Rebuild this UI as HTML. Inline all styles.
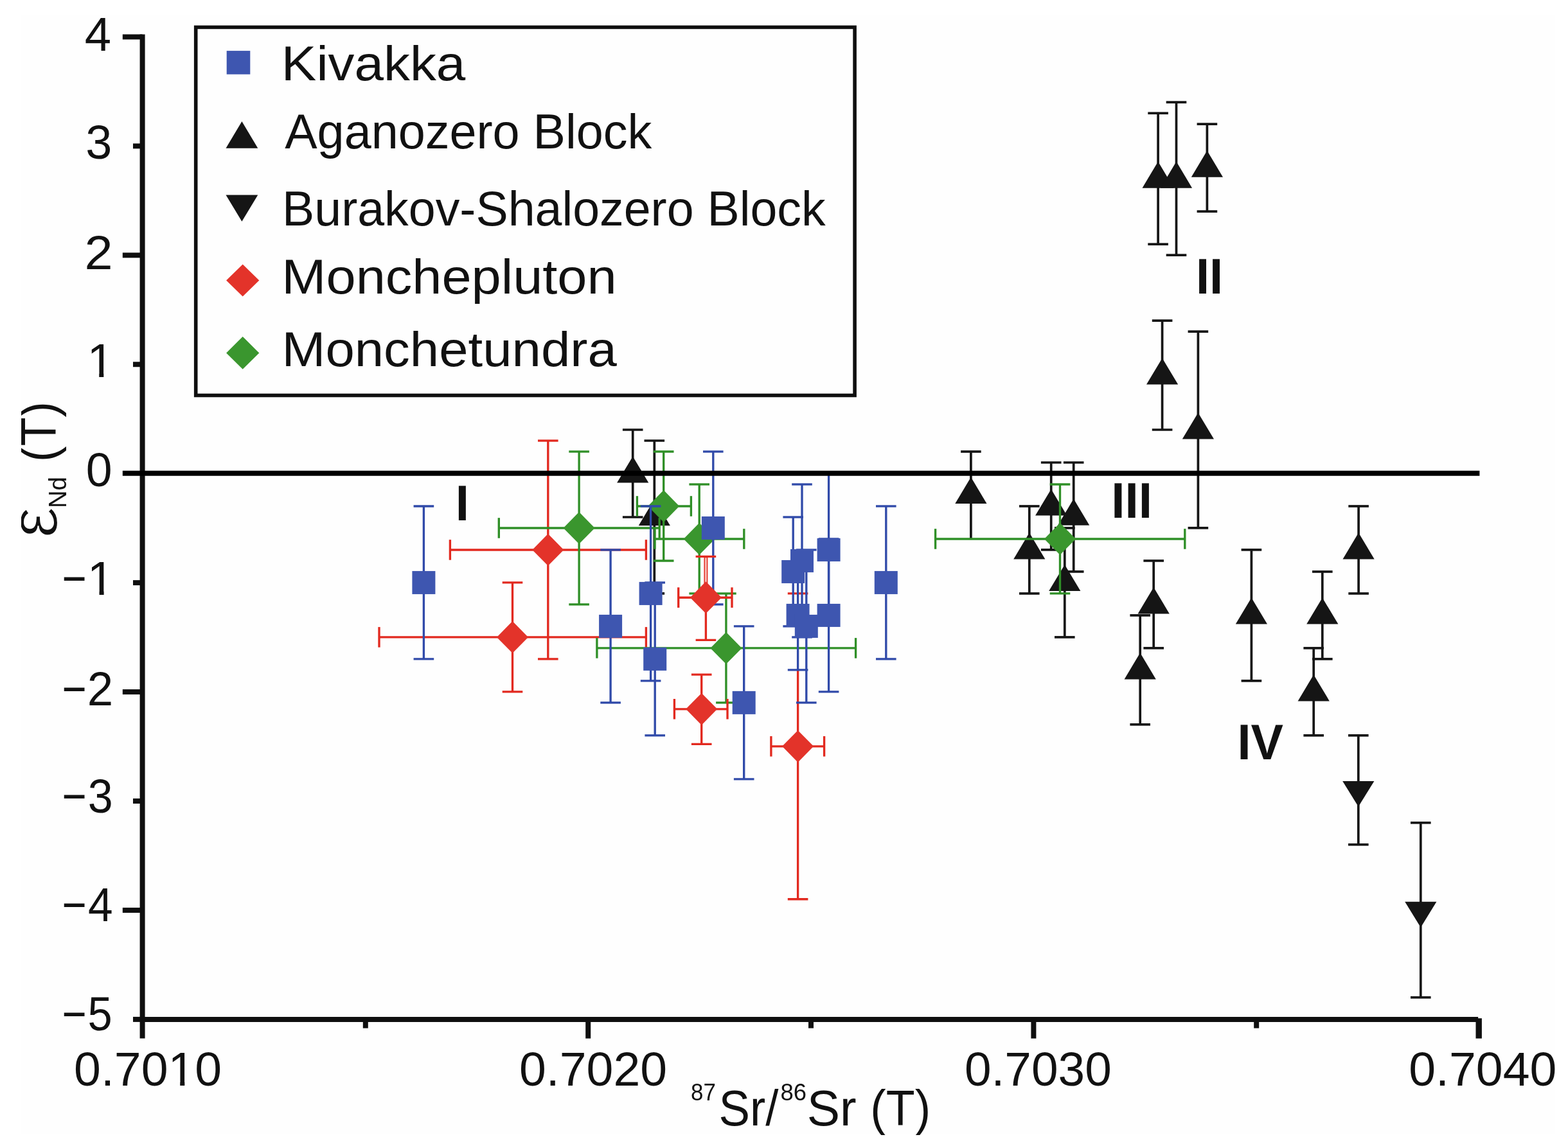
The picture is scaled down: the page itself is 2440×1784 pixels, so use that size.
<!DOCTYPE html>
<html lang="en">
<head>
<meta charset="utf-8">
<title>eNd(T) vs 87Sr/86Sr(T)</title>
<style>
html,body{margin:0;padding:0;background:#ffffff;}
body{width:2440px;height:1784px;overflow:hidden;}
svg{display:block;}
</style>
</head>
<body>
<svg width="2440" height="1784" viewBox="0 0 2440 1784" role="img" aria-label="Scatter plot of epsilon Nd (T) versus 87Sr/86Sr (T) for layered intrusions">
<defs><clipPath id="clip"><rect x="33.2" y="23.2" width="2386.4" height="1743.2"/></clipPath><filter id="soft" x="0" y="0" width="2440" height="1784" filterUnits="userSpaceOnUse" color-interpolation-filters="sRGB"><feGaussianBlur stdDeviation="0.75"/></filter></defs>
<rect x="0" y="0" width="2440" height="1784" fill="#ffffff"/>
<g clip-path="url(#clip)" filter="url(#soft)">
<rect x="33.2" y="23.2" width="2386.4" height="1743.2" fill="#fefefe"/>
<g id="aganozero">
<line x1="984.7" y1="669.02" x2="984.7" y2="804.98" stroke="#151515" stroke-width="3.7" stroke-linecap="butt"/>
<line x1="968.9" y1="669.02" x2="1000.5" y2="669.02" stroke="#151515" stroke-width="3.7" stroke-linecap="butt"/>
<line x1="968.9" y1="804.98" x2="1000.5" y2="804.98" stroke="#151515" stroke-width="3.7" stroke-linecap="butt"/>
<polygon points="984.7,710.4 1009.3,751.5 960.1,751.5" fill="#151515"/>
<line x1="1018.3" y1="686.02" x2="1018.3" y2="923.93" stroke="#151515" stroke-width="3.7" stroke-linecap="butt"/>
<line x1="1002.5" y1="686.02" x2="1034.1" y2="686.02" stroke="#151515" stroke-width="3.7" stroke-linecap="butt"/>
<line x1="1002.5" y1="923.93" x2="1034.1" y2="923.93" stroke="#151515" stroke-width="3.7" stroke-linecap="butt"/>
<polygon points="1018.3,777.18 1042.9,818.28 993.7,818.28" fill="#151515"/>
<line x1="1510.9" y1="703.01" x2="1510.9" y2="838.96" stroke="#151515" stroke-width="3.7" stroke-linecap="butt"/>
<line x1="1495.1" y1="703.01" x2="1526.7" y2="703.01" stroke="#151515" stroke-width="3.7" stroke-linecap="butt"/>
<polygon points="1510.9,742.79 1535.5,783.89 1486.3,783.89" fill="#151515"/>
<line x1="1601.8" y1="787.98" x2="1601.8" y2="923.93" stroke="#151515" stroke-width="3.7" stroke-linecap="butt"/>
<line x1="1586" y1="787.98" x2="1617.6" y2="787.98" stroke="#151515" stroke-width="3.7" stroke-linecap="butt"/>
<line x1="1586" y1="923.93" x2="1617.6" y2="923.93" stroke="#151515" stroke-width="3.7" stroke-linecap="butt"/>
<polygon points="1601.8,829.36 1626.4,870.46 1577.2,870.46" fill="#151515"/>
<line x1="1656.8" y1="821.97" x2="1656.8" y2="991.91" stroke="#151515" stroke-width="3.7" stroke-linecap="butt"/>
<line x1="1641" y1="821.97" x2="1672.6" y2="821.97" stroke="#151515" stroke-width="3.7" stroke-linecap="butt"/>
<line x1="1641" y1="991.91" x2="1672.6" y2="991.91" stroke="#151515" stroke-width="3.7" stroke-linecap="butt"/>
<polygon points="1656.8,878.94 1681.4,920.04 1632.2,920.04" fill="#151515"/>
<line x1="1635.7" y1="720.01" x2="1635.7" y2="855.96" stroke="#151515" stroke-width="3.7" stroke-linecap="butt"/>
<line x1="1619.9" y1="720.01" x2="1651.5" y2="720.01" stroke="#151515" stroke-width="3.7" stroke-linecap="butt"/>
<line x1="1619.9" y1="855.96" x2="1651.5" y2="855.96" stroke="#151515" stroke-width="3.7" stroke-linecap="butt"/>
<polygon points="1635.7,761.38 1660.3,802.48 1611.1,802.48" fill="#151515"/>
<line x1="1670.7" y1="720.01" x2="1670.7" y2="889.95" stroke="#151515" stroke-width="3.7" stroke-linecap="butt"/>
<line x1="1654.9" y1="720.01" x2="1686.5" y2="720.01" stroke="#151515" stroke-width="3.7" stroke-linecap="butt"/>
<line x1="1654.9" y1="889.95" x2="1686.5" y2="889.95" stroke="#151515" stroke-width="3.7" stroke-linecap="butt"/>
<polygon points="1670.7,776.58 1695.3,817.68 1646.1,817.68" fill="#151515"/>
<line x1="1774.2" y1="957.92" x2="1774.2" y2="1127.86" stroke="#151515" stroke-width="3.7" stroke-linecap="butt"/>
<line x1="1758.4" y1="957.92" x2="1790" y2="957.92" stroke="#151515" stroke-width="3.7" stroke-linecap="butt"/>
<line x1="1758.4" y1="1127.86" x2="1790" y2="1127.86" stroke="#151515" stroke-width="3.7" stroke-linecap="butt"/>
<polygon points="1774.2,1016.29 1798.8,1057.39 1749.6,1057.39" fill="#151515"/>
<line x1="1795.2" y1="872.95" x2="1795.2" y2="1008.9" stroke="#151515" stroke-width="3.7" stroke-linecap="butt"/>
<line x1="1779.4" y1="872.95" x2="1811" y2="872.95" stroke="#151515" stroke-width="3.7" stroke-linecap="butt"/>
<line x1="1779.4" y1="1008.9" x2="1811" y2="1008.9" stroke="#151515" stroke-width="3.7" stroke-linecap="butt"/>
<polygon points="1795.2,914.33 1819.8,955.43 1770.6,955.43" fill="#151515"/>
<line x1="1802.1" y1="176.2" x2="1802.1" y2="380.13" stroke="#151515" stroke-width="3.7" stroke-linecap="butt"/>
<line x1="1786.3" y1="176.2" x2="1817.9" y2="176.2" stroke="#151515" stroke-width="3.7" stroke-linecap="butt"/>
<line x1="1786.3" y1="380.13" x2="1817.9" y2="380.13" stroke="#151515" stroke-width="3.7" stroke-linecap="butt"/>
<polygon points="1802.1,251.56 1826.7,292.66 1777.5,292.66" fill="#151515"/>
<line x1="1830.5" y1="159.2" x2="1830.5" y2="397.12" stroke="#151515" stroke-width="3.7" stroke-linecap="butt"/>
<line x1="1814.7" y1="159.2" x2="1846.3" y2="159.2" stroke="#151515" stroke-width="3.7" stroke-linecap="butt"/>
<line x1="1814.7" y1="397.12" x2="1846.3" y2="397.12" stroke="#151515" stroke-width="3.7" stroke-linecap="butt"/>
<polygon points="1830.5,251.56 1855.1,292.66 1805.9,292.66" fill="#151515"/>
<line x1="1878.4" y1="193.19" x2="1878.4" y2="329.14" stroke="#151515" stroke-width="3.7" stroke-linecap="butt"/>
<line x1="1862.6" y1="193.19" x2="1894.2" y2="193.19" stroke="#151515" stroke-width="3.7" stroke-linecap="butt"/>
<line x1="1862.6" y1="329.14" x2="1894.2" y2="329.14" stroke="#151515" stroke-width="3.7" stroke-linecap="butt"/>
<polygon points="1878.4,234.57 1903,275.67 1853.8,275.67" fill="#151515"/>
<line x1="1808.6" y1="499.08" x2="1808.6" y2="669.02" stroke="#151515" stroke-width="3.7" stroke-linecap="butt"/>
<line x1="1792.8" y1="499.08" x2="1824.4" y2="499.08" stroke="#151515" stroke-width="3.7" stroke-linecap="butt"/>
<line x1="1792.8" y1="669.02" x2="1824.4" y2="669.02" stroke="#151515" stroke-width="3.7" stroke-linecap="butt"/>
<polygon points="1808.6,557.45 1833.2,598.55 1784,598.55" fill="#151515"/>
<line x1="1864.4" y1="516.08" x2="1864.4" y2="821.97" stroke="#151515" stroke-width="3.7" stroke-linecap="butt"/>
<line x1="1848.6" y1="516.08" x2="1880.2" y2="516.08" stroke="#151515" stroke-width="3.7" stroke-linecap="butt"/>
<line x1="1848.6" y1="821.97" x2="1880.2" y2="821.97" stroke="#151515" stroke-width="3.7" stroke-linecap="butt"/>
<polygon points="1864.4,642.42 1889,683.52 1839.8,683.52" fill="#151515"/>
<line x1="1947.4" y1="855.96" x2="1947.4" y2="1059.89" stroke="#151515" stroke-width="3.7" stroke-linecap="butt"/>
<line x1="1931.6" y1="855.96" x2="1963.2" y2="855.96" stroke="#151515" stroke-width="3.7" stroke-linecap="butt"/>
<line x1="1931.6" y1="1059.89" x2="1963.2" y2="1059.89" stroke="#151515" stroke-width="3.7" stroke-linecap="butt"/>
<polygon points="1947.4,930.52 1972,971.62 1922.8,971.62" fill="#151515"/>
<line x1="2044.2" y1="1008.9" x2="2044.2" y2="1144.86" stroke="#151515" stroke-width="3.7" stroke-linecap="butt"/>
<line x1="2028.4" y1="1008.9" x2="2060" y2="1008.9" stroke="#151515" stroke-width="3.7" stroke-linecap="butt"/>
<line x1="2028.4" y1="1144.86" x2="2060" y2="1144.86" stroke="#151515" stroke-width="3.7" stroke-linecap="butt"/>
<polygon points="2044.2,1050.28 2068.8,1091.38 2019.6,1091.38" fill="#151515"/>
<line x1="2057.8" y1="889.95" x2="2057.8" y2="1025.9" stroke="#151515" stroke-width="3.7" stroke-linecap="butt"/>
<line x1="2042" y1="889.95" x2="2073.6" y2="889.95" stroke="#151515" stroke-width="3.7" stroke-linecap="butt"/>
<line x1="2042" y1="1025.9" x2="2073.6" y2="1025.9" stroke="#151515" stroke-width="3.7" stroke-linecap="butt"/>
<polygon points="2057.8,930.52 2082.4,971.62 2033.2,971.62" fill="#151515"/>
<line x1="2114.1" y1="787.98" x2="2114.1" y2="923.93" stroke="#151515" stroke-width="3.7" stroke-linecap="butt"/>
<line x1="2098.3" y1="787.98" x2="2129.9" y2="787.98" stroke="#151515" stroke-width="3.7" stroke-linecap="butt"/>
<line x1="2098.3" y1="923.93" x2="2129.9" y2="923.93" stroke="#151515" stroke-width="3.7" stroke-linecap="butt"/>
<polygon points="2114.1,829.36 2138.7,870.46 2089.5,870.46" fill="#151515"/>
</g><g id="burakov">
<line x1="2113.8" y1="1144.86" x2="2113.8" y2="1314.8" stroke="#151515" stroke-width="3.7" stroke-linecap="butt"/>
<line x1="2098" y1="1144.86" x2="2129.6" y2="1144.86" stroke="#151515" stroke-width="3.7" stroke-linecap="butt"/>
<line x1="2098" y1="1314.8" x2="2129.6" y2="1314.8" stroke="#151515" stroke-width="3.7" stroke-linecap="butt"/>
<polygon points="2089.2,1215.93 2138.4,1215.93 2113.8,1255.83" fill="#151515"/>
<line x1="2210.8" y1="1280.81" x2="2210.8" y2="1552.71" stroke="#151515" stroke-width="3.7" stroke-linecap="butt"/>
<line x1="2195" y1="1280.81" x2="2226.6" y2="1280.81" stroke="#151515" stroke-width="3.7" stroke-linecap="butt"/>
<line x1="2195" y1="1552.71" x2="2226.6" y2="1552.71" stroke="#151515" stroke-width="3.7" stroke-linecap="butt"/>
<polygon points="2186.2,1403.76 2235.4,1403.76 2210.8,1443.66" fill="#151515"/>
</g><g id="monchepluton-a">
<line x1="700.4" y1="855.96" x2="1005.4" y2="855.96" stroke="#e2291f" stroke-width="3.35" stroke-linecap="butt"/>
<line x1="700.4" y1="840.16" x2="700.4" y2="871.76" stroke="#e2291f" stroke-width="3.35" stroke-linecap="butt"/>
<line x1="1005.4" y1="840.16" x2="1005.4" y2="871.76" stroke="#e2291f" stroke-width="3.35" stroke-linecap="butt"/>
<line x1="852.8" y1="686.02" x2="852.8" y2="1025.9" stroke="#e2291f" stroke-width="3.35" stroke-linecap="butt"/>
<line x1="837" y1="686.02" x2="868.6" y2="686.02" stroke="#e2291f" stroke-width="3.35" stroke-linecap="butt"/>
<line x1="837" y1="1025.9" x2="868.6" y2="1025.9" stroke="#e2291f" stroke-width="3.35" stroke-linecap="butt"/>
<polygon points="852.8,831.06 877.3,855.96 852.8,880.86 828.3,855.96" fill="#e3332a"/>
<line x1="590" y1="991.91" x2="1005.4" y2="991.91" stroke="#e2291f" stroke-width="3.35" stroke-linecap="butt"/>
<line x1="590" y1="976.11" x2="590" y2="1007.71" stroke="#e2291f" stroke-width="3.35" stroke-linecap="butt"/>
<line x1="1005.4" y1="976.11" x2="1005.4" y2="1007.71" stroke="#e2291f" stroke-width="3.35" stroke-linecap="butt"/>
<line x1="797.5" y1="906.94" x2="797.5" y2="1076.88" stroke="#e2291f" stroke-width="3.35" stroke-linecap="butt"/>
<line x1="781.7" y1="906.94" x2="813.3" y2="906.94" stroke="#e2291f" stroke-width="3.35" stroke-linecap="butt"/>
<line x1="781.7" y1="1076.88" x2="813.3" y2="1076.88" stroke="#e2291f" stroke-width="3.35" stroke-linecap="butt"/>
<polygon points="797.5,967.01 822,991.91 797.5,1016.81 773,991.91" fill="#e3332a"/>
<line x1="1199.9" y1="1161.85" x2="1282.6" y2="1161.85" stroke="#e2291f" stroke-width="3.35" stroke-linecap="butt"/>
<line x1="1199.9" y1="1146.05" x2="1199.9" y2="1177.65" stroke="#e2291f" stroke-width="3.35" stroke-linecap="butt"/>
<line x1="1282.6" y1="1146.05" x2="1282.6" y2="1177.65" stroke="#e2291f" stroke-width="3.35" stroke-linecap="butt"/>
<line x1="1225.8" y1="923.93" x2="1257.4" y2="923.93" stroke="#e2291f" stroke-width="3.35" stroke-linecap="butt"/>
<line x1="1241.6" y1="1043" x2="1241.6" y2="1399.77" stroke="#e2291f" stroke-width="3.35" stroke-linecap="butt"/>
<line x1="1225.8" y1="1399.77" x2="1257.4" y2="1399.77" stroke="#e2291f" stroke-width="3.35" stroke-linecap="butt"/>
<polygon points="1241.6,1136.95 1266.1,1161.85 1241.6,1186.75 1217.1,1161.85" fill="#e3332a"/>
</g><g id="monchetundra">
<line x1="776.3" y1="821.97" x2="1026.2" y2="821.97" stroke="#2f8f27" stroke-width="3.35" stroke-linecap="butt"/>
<line x1="776.3" y1="806.17" x2="776.3" y2="837.77" stroke="#2f8f27" stroke-width="3.35" stroke-linecap="butt"/>
<line x1="1026.2" y1="806.17" x2="1026.2" y2="837.77" stroke="#2f8f27" stroke-width="3.35" stroke-linecap="butt"/>
<line x1="901.1" y1="703.01" x2="901.1" y2="940.93" stroke="#2f8f27" stroke-width="3.35" stroke-linecap="butt"/>
<line x1="885.3" y1="703.01" x2="916.9" y2="703.01" stroke="#2f8f27" stroke-width="3.35" stroke-linecap="butt"/>
<line x1="885.3" y1="940.93" x2="916.9" y2="940.93" stroke="#2f8f27" stroke-width="3.35" stroke-linecap="butt"/>
<line x1="991.4" y1="787.98" x2="1075.4" y2="787.98" stroke="#2f8f27" stroke-width="3.35" stroke-linecap="butt"/>
<line x1="991.4" y1="772.18" x2="991.4" y2="803.78" stroke="#2f8f27" stroke-width="3.35" stroke-linecap="butt"/>
<line x1="1075.4" y1="772.18" x2="1075.4" y2="803.78" stroke="#2f8f27" stroke-width="3.35" stroke-linecap="butt"/>
<line x1="1032.7" y1="703.01" x2="1032.7" y2="872.95" stroke="#2f8f27" stroke-width="3.35" stroke-linecap="butt"/>
<line x1="1016.9" y1="703.01" x2="1048.5" y2="703.01" stroke="#2f8f27" stroke-width="3.35" stroke-linecap="butt"/>
<line x1="1016.9" y1="872.95" x2="1048.5" y2="872.95" stroke="#2f8f27" stroke-width="3.35" stroke-linecap="butt"/>
<line x1="1019" y1="838.96" x2="1157.8" y2="838.96" stroke="#2f8f27" stroke-width="3.35" stroke-linecap="butt"/>
<line x1="1019" y1="823.16" x2="1019" y2="854.76" stroke="#2f8f27" stroke-width="3.35" stroke-linecap="butt"/>
<line x1="1157.8" y1="823.16" x2="1157.8" y2="854.76" stroke="#2f8f27" stroke-width="3.35" stroke-linecap="butt"/>
<line x1="1088.2" y1="753.99" x2="1088.2" y2="923.93" stroke="#2f8f27" stroke-width="3.35" stroke-linecap="butt"/>
<line x1="1072.4" y1="753.99" x2="1104" y2="753.99" stroke="#2f8f27" stroke-width="3.35" stroke-linecap="butt"/>
<line x1="1072.4" y1="923.93" x2="1104" y2="923.93" stroke="#2f8f27" stroke-width="3.35" stroke-linecap="butt"/>
<line x1="928.9" y1="1008.9" x2="1331.6" y2="1008.9" stroke="#2f8f27" stroke-width="3.35" stroke-linecap="butt"/>
<line x1="928.9" y1="993.1" x2="928.9" y2="1024.7" stroke="#2f8f27" stroke-width="3.35" stroke-linecap="butt"/>
<line x1="1331.6" y1="993.1" x2="1331.6" y2="1024.7" stroke="#2f8f27" stroke-width="3.35" stroke-linecap="butt"/>
<line x1="1129.9" y1="923.93" x2="1129.9" y2="1093.87" stroke="#2f8f27" stroke-width="3.35" stroke-linecap="butt"/>
<line x1="1114.1" y1="923.93" x2="1145.7" y2="923.93" stroke="#2f8f27" stroke-width="3.35" stroke-linecap="butt"/>
<line x1="1114.1" y1="1093.87" x2="1145.7" y2="1093.87" stroke="#2f8f27" stroke-width="3.35" stroke-linecap="butt"/>
<line x1="1455.6" y1="838.96" x2="1843.8" y2="838.96" stroke="#2f8f27" stroke-width="3.35" stroke-linecap="butt"/>
<line x1="1455.6" y1="823.16" x2="1455.6" y2="854.76" stroke="#2f8f27" stroke-width="3.35" stroke-linecap="butt"/>
<line x1="1843.8" y1="823.16" x2="1843.8" y2="854.76" stroke="#2f8f27" stroke-width="3.35" stroke-linecap="butt"/>
<line x1="1649.5" y1="753.99" x2="1649.5" y2="923.93" stroke="#2f8f27" stroke-width="3.35" stroke-linecap="butt"/>
<line x1="1633.7" y1="753.99" x2="1665.3" y2="753.99" stroke="#2f8f27" stroke-width="3.35" stroke-linecap="butt"/>
<line x1="1633.7" y1="923.93" x2="1665.3" y2="923.93" stroke="#2f8f27" stroke-width="3.35" stroke-linecap="butt"/>
<polygon points="901.1,797.07 925.6,821.97 901.1,846.87 876.6,821.97" fill="#3a962e"/>
<polygon points="1032.7,763.08 1057.2,787.98 1032.7,812.88 1008.2,787.98" fill="#3a962e"/>
<polygon points="1088.2,814.06 1112.7,838.96 1088.2,863.86 1063.7,838.96" fill="#3a962e"/>
<polygon points="1129.9,984 1154.4,1008.9 1129.9,1033.8 1105.4,1008.9" fill="#3a962e"/>
<polygon points="1649.5,814.06 1674,838.96 1649.5,863.86 1625,838.96" fill="#3a962e"/>
</g><g id="kivakka">
<line x1="659.4" y1="787.98" x2="659.4" y2="1025.9" stroke="#304aa9" stroke-width="3.35" stroke-linecap="butt"/>
<line x1="643.6" y1="787.98" x2="675.2" y2="787.98" stroke="#304aa9" stroke-width="3.35" stroke-linecap="butt"/>
<line x1="643.6" y1="1025.9" x2="675.2" y2="1025.9" stroke="#304aa9" stroke-width="3.35" stroke-linecap="butt"/>
<line x1="950.1" y1="855.96" x2="950.1" y2="1093.87" stroke="#304aa9" stroke-width="3.35" stroke-linecap="butt"/>
<line x1="934.3" y1="855.96" x2="965.9" y2="855.96" stroke="#304aa9" stroke-width="3.35" stroke-linecap="butt"/>
<line x1="934.3" y1="1093.87" x2="965.9" y2="1093.87" stroke="#304aa9" stroke-width="3.35" stroke-linecap="butt"/>
<line x1="1012.6" y1="787.98" x2="1012.6" y2="1059.89" stroke="#304aa9" stroke-width="3.35" stroke-linecap="butt"/>
<line x1="996.8" y1="787.98" x2="1028.4" y2="787.98" stroke="#304aa9" stroke-width="3.35" stroke-linecap="butt"/>
<line x1="996.8" y1="1059.89" x2="1028.4" y2="1059.89" stroke="#304aa9" stroke-width="3.35" stroke-linecap="butt"/>
<line x1="1019.2" y1="906.94" x2="1019.2" y2="1144.86" stroke="#304aa9" stroke-width="3.35" stroke-linecap="butt"/>
<line x1="1003.4" y1="906.94" x2="1035" y2="906.94" stroke="#304aa9" stroke-width="3.35" stroke-linecap="butt"/>
<line x1="1003.4" y1="1144.86" x2="1035" y2="1144.86" stroke="#304aa9" stroke-width="3.35" stroke-linecap="butt"/>
<line x1="1109.8" y1="703.01" x2="1109.8" y2="940.93" stroke="#304aa9" stroke-width="3.35" stroke-linecap="butt"/>
<line x1="1094" y1="703.01" x2="1125.6" y2="703.01" stroke="#304aa9" stroke-width="3.35" stroke-linecap="butt"/>
<line x1="1094" y1="940.93" x2="1125.6" y2="940.93" stroke="#304aa9" stroke-width="3.35" stroke-linecap="butt"/>
<line x1="1157.7" y1="974.92" x2="1157.7" y2="1212.83" stroke="#304aa9" stroke-width="3.35" stroke-linecap="butt"/>
<line x1="1141.9" y1="974.92" x2="1173.5" y2="974.92" stroke="#304aa9" stroke-width="3.35" stroke-linecap="butt"/>
<line x1="1141.9" y1="1212.83" x2="1173.5" y2="1212.83" stroke="#304aa9" stroke-width="3.35" stroke-linecap="butt"/>
<line x1="1234.2" y1="804.98" x2="1234.2" y2="974.92" stroke="#304aa9" stroke-width="3.35" stroke-linecap="butt"/>
<line x1="1218.4" y1="804.98" x2="1250" y2="804.98" stroke="#304aa9" stroke-width="3.35" stroke-linecap="butt"/>
<line x1="1218.4" y1="974.92" x2="1250" y2="974.92" stroke="#304aa9" stroke-width="3.35" stroke-linecap="butt"/>
<line x1="1248" y1="753.99" x2="1248" y2="991.91" stroke="#304aa9" stroke-width="3.35" stroke-linecap="butt"/>
<line x1="1232.2" y1="753.99" x2="1263.8" y2="753.99" stroke="#304aa9" stroke-width="3.35" stroke-linecap="butt"/>
<line x1="1232.2" y1="991.91" x2="1263.8" y2="991.91" stroke="#304aa9" stroke-width="3.35" stroke-linecap="butt"/>
<line x1="1241.6" y1="872.95" x2="1241.6" y2="1042.89" stroke="#304aa9" stroke-width="3.35" stroke-linecap="butt"/>
<line x1="1225.8" y1="1042.89" x2="1257.4" y2="1042.89" stroke="#304aa9" stroke-width="3.35" stroke-linecap="butt"/>
<line x1="1254.8" y1="855.96" x2="1254.8" y2="1093.87" stroke="#304aa9" stroke-width="3.35" stroke-linecap="butt"/>
<line x1="1239" y1="855.96" x2="1270.6" y2="855.96" stroke="#304aa9" stroke-width="3.35" stroke-linecap="butt"/>
<line x1="1239" y1="1093.87" x2="1270.6" y2="1093.87" stroke="#304aa9" stroke-width="3.35" stroke-linecap="butt"/>
<line x1="1289.6" y1="737" x2="1289.6" y2="974.92" stroke="#304aa9" stroke-width="3.35" stroke-linecap="butt"/>
<line x1="1289.6" y1="838.96" x2="1289.6" y2="1076.88" stroke="#304aa9" stroke-width="3.35" stroke-linecap="butt"/>
<line x1="1273.8" y1="838.96" x2="1305.4" y2="838.96" stroke="#304aa9" stroke-width="3.35" stroke-linecap="butt"/>
<line x1="1273.8" y1="1076.88" x2="1305.4" y2="1076.88" stroke="#304aa9" stroke-width="3.35" stroke-linecap="butt"/>
<line x1="1378.8" y1="787.98" x2="1378.8" y2="1025.9" stroke="#304aa9" stroke-width="3.35" stroke-linecap="butt"/>
<line x1="1363" y1="787.98" x2="1394.6" y2="787.98" stroke="#304aa9" stroke-width="3.35" stroke-linecap="butt"/>
<line x1="1363" y1="1025.9" x2="1394.6" y2="1025.9" stroke="#304aa9" stroke-width="3.35" stroke-linecap="butt"/>
<rect x="641.4" y="888.94" width="36" height="36" fill="#3e56b0"/>
<rect x="932.1" y="956.92" width="36" height="36" fill="#3e56b0"/>
<rect x="994.6" y="905.93" width="36" height="36" fill="#3e56b0"/>
<rect x="1001.2" y="1007.9" width="36" height="36" fill="#3e56b0"/>
<rect x="1091.8" y="803.97" width="36" height="36" fill="#3e56b0"/>
<rect x="1139.7" y="1075.87" width="36" height="36" fill="#3e56b0"/>
<rect x="1216.2" y="871.95" width="36" height="36" fill="#3e56b0"/>
<rect x="1230" y="854.95" width="36" height="36" fill="#3e56b0"/>
<rect x="1223.6" y="939.92" width="36" height="36" fill="#3e56b0"/>
<rect x="1236.8" y="956.92" width="36" height="36" fill="#3e56b0"/>
<rect x="1271.6" y="837.96" width="36" height="36" fill="#3e56b0"/>
<rect x="1271.6" y="939.92" width="36" height="36" fill="#3e56b0"/>
<rect x="1360.8" y="888.94" width="36" height="36" fill="#3e56b0"/>
</g><g id="monchepluton-b">
<line x1="1055.7" y1="930.2" x2="1139" y2="930.2" stroke="#e2291f" stroke-width="3.35" stroke-linecap="butt"/>
<line x1="1055.7" y1="914.4" x2="1055.7" y2="946" stroke="#e2291f" stroke-width="3.35" stroke-linecap="butt"/>
<line x1="1139" y1="914.4" x2="1139" y2="946" stroke="#e2291f" stroke-width="3.35" stroke-linecap="butt"/>
<line x1="1098.4" y1="866.3" x2="1098.4" y2="996.3" stroke="#e2291f" stroke-width="3.35" stroke-linecap="butt"/>
<line x1="1082.6" y1="866.3" x2="1114.2" y2="866.3" stroke="#e2291f" stroke-width="3.35" stroke-linecap="butt"/>
<line x1="1082.6" y1="996.3" x2="1114.2" y2="996.3" stroke="#e2291f" stroke-width="3.35" stroke-linecap="butt"/>
<line x1="1098.4" y1="868.3" x2="1098.4" y2="910.2" stroke="#f7bcb6" stroke-width="3.2" stroke-linecap="butt"/>
<line x1="1096.2" y1="866.3" x2="1096.2" y2="910.2" stroke="#e2291f" stroke-width="1.5" stroke-linecap="butt"/>
<line x1="1100.6" y1="866.3" x2="1100.6" y2="910.2" stroke="#e2291f" stroke-width="1.5" stroke-linecap="butt"/>
<polygon points="1098.4,905.3 1122.9,930.2 1098.4,955.1 1073.9,930.2" fill="#e3332a"/>
<line x1="1049.4" y1="1103.8" x2="1132" y2="1103.8" stroke="#e2291f" stroke-width="3.35" stroke-linecap="butt"/>
<line x1="1049.4" y1="1088" x2="1049.4" y2="1119.6" stroke="#e2291f" stroke-width="3.35" stroke-linecap="butt"/>
<line x1="1132" y1="1088" x2="1132" y2="1119.6" stroke="#e2291f" stroke-width="3.35" stroke-linecap="butt"/>
<line x1="1091.7" y1="1050.1" x2="1091.7" y2="1158.4" stroke="#e2291f" stroke-width="3.35" stroke-linecap="butt"/>
<line x1="1075.9" y1="1050.1" x2="1107.5" y2="1050.1" stroke="#e2291f" stroke-width="3.35" stroke-linecap="butt"/>
<line x1="1075.9" y1="1158.4" x2="1107.5" y2="1158.4" stroke="#e2291f" stroke-width="3.35" stroke-linecap="butt"/>
<polygon points="1091.7,1078.9 1116.2,1103.8 1091.7,1128.7 1067.2,1103.8" fill="#e3332a"/>
</g>
<g id="axes">
<line x1="221.6" y1="53.4" x2="221.6" y2="1616.6" stroke="#0f0f0f" stroke-width="8" stroke-linecap="butt"/>
<line x1="217.6" y1="1586.9" x2="2300.2" y2="1586.9" stroke="#0f0f0f" stroke-width="8" stroke-linecap="butt"/>
<line x1="190.8" y1="736.8" x2="2302.4" y2="736.8" stroke="#000" stroke-width="8" stroke-linecap="butt"/>
<line x1="190.8" y1="57.44" x2="221.6" y2="57.44" stroke="#0f0f0f" stroke-width="8" stroke-linecap="butt"/>
<line x1="190.8" y1="397.32" x2="221.6" y2="397.32" stroke="#0f0f0f" stroke-width="8" stroke-linecap="butt"/>
<line x1="190.8" y1="1077.08" x2="221.6" y2="1077.08" stroke="#0f0f0f" stroke-width="8" stroke-linecap="butt"/>
<line x1="190.8" y1="1416.96" x2="221.6" y2="1416.96" stroke="#0f0f0f" stroke-width="8" stroke-linecap="butt"/>
<line x1="207" y1="227.38" x2="221.6" y2="227.38" stroke="#0f0f0f" stroke-width="8" stroke-linecap="butt"/>
<line x1="207" y1="567.26" x2="221.6" y2="567.26" stroke="#0f0f0f" stroke-width="8" stroke-linecap="butt"/>
<line x1="207" y1="907.14" x2="221.6" y2="907.14" stroke="#0f0f0f" stroke-width="8" stroke-linecap="butt"/>
<line x1="207" y1="1247.02" x2="221.6" y2="1247.02" stroke="#0f0f0f" stroke-width="8" stroke-linecap="butt"/>
<line x1="207" y1="1586.9" x2="221.6" y2="1586.9" stroke="#0f0f0f" stroke-width="8" stroke-linecap="butt"/>
<line x1="915.2" y1="1586.9" x2="915.2" y2="1616.6" stroke="#0f0f0f" stroke-width="8" stroke-linecap="butt"/>
<line x1="1608.4" y1="1586.9" x2="1608.4" y2="1616.6" stroke="#0f0f0f" stroke-width="8" stroke-linecap="butt"/>
<line x1="2301.2" y1="1585.2" x2="2301.2" y2="1616.6" stroke="#0f0f0f" stroke-width="9.4" stroke-linecap="butt"/>
<line x1="568.8" y1="1586.9" x2="568.8" y2="1600.6" stroke="#0f0f0f" stroke-width="8" stroke-linecap="butt"/>
<line x1="1262" y1="1586.9" x2="1262" y2="1600.6" stroke="#0f0f0f" stroke-width="8" stroke-linecap="butt"/>
<line x1="1955.2" y1="1586.9" x2="1955.2" y2="1600.6" stroke="#0f0f0f" stroke-width="8" stroke-linecap="butt"/>
</g>
<g id="legend">
<rect x="304.7" y="42.4" width="1025.4" height="573.1" fill="none" stroke="#0f0f0f" stroke-width="5.6"/>
<rect x="352.7" y="79.1" width="36.6" height="36.6" fill="#3e56b0"/>
<polygon points="376.4,189 401.3,230.8 351.5,230.8" fill="#151515"/>
<polygon points="351.5,303.4 401.3,303.4 376.4,344.8" fill="#151515"/>
<polygon points="377.7,411.4 403.3,436.5 377.7,461.6 352.1,436.5" fill="#e3332a"/>
<polygon points="377.7,524 403.3,549.4 377.7,574.8 352.1,549.4" fill="#3a962e"/>
</g>
<g id="labels" font-family='"Liberation Sans", Arial, Helvetica, sans-serif' fill="#111111">
<text transform="translate(437.87,125) scale(1.0693,1)" font-size="76.5" font-weight="normal">Kivakka</text>
<text transform="translate(443.23,230.6) scale(0.9877,1)" font-size="76.5" font-weight="normal">Aganozero Block</text>
<text transform="translate(439,351.3) scale(0.9848,1)" font-size="76.5" font-weight="normal">Burakov-Shalozero Block</text>
<text transform="translate(438.37,457.2) scale(1.0849,1)" font-size="76.5" font-weight="normal">Monchepluton</text>
<text transform="translate(438.49,570.3) scale(1.0660,1)" font-size="76.5" font-weight="normal">Monchetundra</text>
<text transform="translate(131.8,79) scale(0.9898,1)" font-size="75" font-weight="normal">4</text>
<text transform="translate(133.22,247.2) scale(0.9846,1)" font-size="75" font-weight="normal">3</text>
<text transform="translate(131.52,418.9) scale(1.0569,1)" font-size="75" font-weight="normal">2</text>
<text transform="translate(135.48,586.9) scale(1.0035,1)" font-size="75" font-weight="normal">1</text>
<text transform="translate(133.71,757.2) scale(0.9783,1)" font-size="75" font-weight="normal">0</text>
<text transform="translate(135.78,926.3) scale(1.0035,1)" font-size="75" font-weight="normal">1</text>
<text transform="translate(96.57,926.3) scale(0.8728,1)" font-size="75" font-weight="normal">−</text>
<text transform="translate(135.75,1097.7) scale(0.9691,1)" font-size="75" font-weight="normal">2</text>
<text transform="translate(96.57,1097.7) scale(0.8728,1)" font-size="75" font-weight="normal">−</text>
<text transform="translate(136.77,1264.7) scale(0.9337,1)" font-size="75" font-weight="normal">3</text>
<text transform="translate(96.57,1264.7) scale(0.8728,1)" font-size="75" font-weight="normal">−</text>
<text transform="translate(137.01,1434.2) scale(0.9263,1)" font-size="75" font-weight="normal">4</text>
<text transform="translate(96.57,1434.2) scale(0.8728,1)" font-size="75" font-weight="normal">−</text>
<text transform="translate(136.58,1604) scale(0.9147,1)" font-size="75" font-weight="normal">5</text>
<text transform="translate(96.57,1604) scale(0.8728,1)" font-size="75" font-weight="normal">−</text>
<text transform="translate(115.03,1690) scale(1.0034,1)" font-size="75" font-weight="normal">0.7010</text>
<text transform="translate(808.03,1690) scale(1.0030,1)" font-size="75" font-weight="normal">0.7020</text>
<text transform="translate(1500.95,1690) scale(0.9976,1)" font-size="75" font-weight="normal">0.7030</text>
<text transform="translate(2192.23,1690) scale(1.0034,1)" font-size="75" font-weight="normal">0.7040</text>
<text transform="translate(708.65,810) scale(0.9940,1)" font-size="77" font-weight="bold">I</text>
<text transform="translate(1860.99,456.6) scale(0.9862,1)" font-size="77" font-weight="bold">II</text>
<text transform="translate(1729.25,805.8) scale(0.9941,1)" font-size="77" font-weight="bold">III</text>
<text transform="translate(1925.41,1182) scale(0.9830,1)" font-size="77" font-weight="bold">IV</text>
<text transform="translate(1075.03,1713.4) scale(0.9427,1)" font-size="37" font-weight="normal">87</text>
<text transform="translate(1118.5,1752.4) scale(0.9435,1)" font-size="77" font-weight="normal">Sr/</text>
<text transform="translate(1214.46,1713.4) scale(0.9861,1)" font-size="37" font-weight="normal">86</text>
<text transform="translate(1255.8,1752.4) scale(0.9987,1)" font-size="77" font-weight="normal">Sr</text>
<text transform="translate(1354.32,1752.4) scale(0.9551,1)" font-size="77" font-weight="normal">(T)</text>
<text transform="translate(89,837.32) rotate(-90) scale(1.0069,1)" font-size="108" font-weight="normal" font-family='"Liberation Sans", Arial, Helvetica, sans-serif' stroke='#fefefe' stroke-width='2.1'>ε</text>
<text transform="translate(103.4,790.95) rotate(-90) scale(0.9782,1)" font-size="39" font-weight="normal">Nd</text>
<text transform="translate(87.4,718.98) rotate(-90) scale(0.9540,1)" font-size="77" font-weight="normal">(T)</text>
</g>
<g id="one-serif-cover" fill="#fefefe">
<rect x="139.62" y="580.49" width="14.61" height="8.01"/>
<rect x="161.32" y="580.49" width="14.05" height="8.01"/>
<rect x="139.92" y="919.89" width="14.61" height="8.01"/>
<rect x="161.62" y="919.89" width="14.05" height="8.01"/>
<rect x="265.62" y="1683.59" width="14.61" height="8.01"/>
<rect x="287.32" y="1683.59" width="14.05" height="8.01"/>
</g>
</g>
</svg>
</body>
</html>
